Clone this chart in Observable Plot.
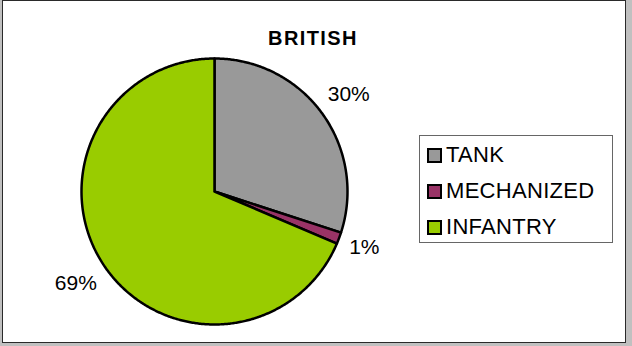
<!DOCTYPE html>
<html>
<head>
<meta charset="utf-8">
<script src="https://cdn.jsdelivr.net/npm/d3@7"></script>
<script src="https://cdn.jsdelivr.net/npm/@observablehq/plot@0.6"></script>
<style>
  html, body { margin: 0; padding: 0; }
  body { width: 632px; height: 346px; background: #c0c0c0; position: relative; overflow: hidden;
         font-family: "Liberation Sans", Arial, sans-serif; }
  #frame { position: absolute; left: 2px; top: 0px; width: 622px; height: 341px;
           border: 1px solid #2a2a2a; background: #ffffff; }
  #chart { position: absolute; left: 0; top: 0; }
  #title { position: absolute; left: 213px; width: 200px; top: 27px; text-align: center;
           font-weight: bold; font-size: 20px; letter-spacing: 1.4px; color: #000; line-height: 22px; }
  #legend { position: absolute; left: 419px; top: 135px; width: 192px; height: 106px;
            border: 1px solid #666; background: #fff; }
  .item { position: absolute; left: 7px; height: 24px; display: flex; align-items: center;
          font-size: 22px; letter-spacing: 0.3px; color: #000; white-space: nowrap; }
  .sw { width: 11px; height: 11px; border: 2px solid #000; margin-right: 4px; flex: none; }
</style>
</head>
<body>
<div id="frame"></div>
<div id="chart"></div>
<div id="title"></div>
<div id="legend"></div>
<script>
// ---- data ----
const chartTitle = "BRITISH";
const categories = ["TANK", "MECHANIZED", "INFANTRY"];
const values = [30, 1.4, 68.6];
const colors = ["#999999", "#993366", "#99CC00"];

// ---- slice geometry (unit circle, starting at 12 o'clock, clockwise) ----
const total = d3.sum(values);
const points = [];
const labels = [];
let acc = 0;
categories.forEach((cat, i) => {
  const a0 = acc / total * 2 * Math.PI;
  acc += values[i];
  const a1 = acc / total * 2 * Math.PI;
  points.push({cat, x: 0, y: 0});
  const n = Math.max(2, Math.ceil((a1 - a0) / (Math.PI / 360)));
  for (let k = 0; k <= n; k++) {
    const a = a0 + (a1 - a0) * k / n;
    points.push({cat, x: Math.sin(a), y: Math.cos(a)});
  }
  points.push({cat, x: 0, y: 0});
  const am = (a0 + a1) / 2;
  const text = Math.round(values[i] / total * 100) + "%";
  const ux = Math.sin(am), uy = Math.cos(am);
  const w = text.length * 15.5, h = 14;
  const ext = Math.abs(ux) * w / 2 + Math.abs(uy) * h / 2;
  const r = 1 + (10 + ext) / 133;
  labels.push({x: ux * r, y: uy * r, text});
});

const plot = Plot.plot({
  width: 632,
  height: 346,
  margin: 0,
  style: {background: "transparent", overflow: "visible"},
  x: {domain: [-1, 1], range: [81, 347], axis: null},
  y: {domain: [-1, 1], range: [324, 58], axis: null},
  color: {domain: categories, range: colors},
  marks: [
    Plot.line(points, {x: "x", y: "y", z: "cat", fill: "cat", stroke: "#000",
                       strokeWidth: 2.5, strokeLinejoin: "round", curve: "linear"}),
    Plot.text(labels, {x: "x", y: "y", text: "text", fontSize: 21, fill: "#000",
                       fontFamily: "Liberation Sans, Arial, sans-serif",
                       letterSpacing: 1.5})
  ]
});
document.getElementById("chart").appendChild(plot);

document.getElementById("title").textContent = chartTitle;

const legend = document.getElementById("legend");
const rowTops = [7, 43, 79];
categories.forEach((cat, i) => {
  const item = document.createElement("div");
  item.className = "item";
  item.style.top = rowTops[i] + "px";
  const sw = document.createElement("span");
  sw.className = "sw";
  sw.style.background = colors[i];
  const t = document.createElement("span");
  t.textContent = cat;
  item.appendChild(sw);
  item.appendChild(t);
  legend.appendChild(item);
});
</script>
</body>
</html>
